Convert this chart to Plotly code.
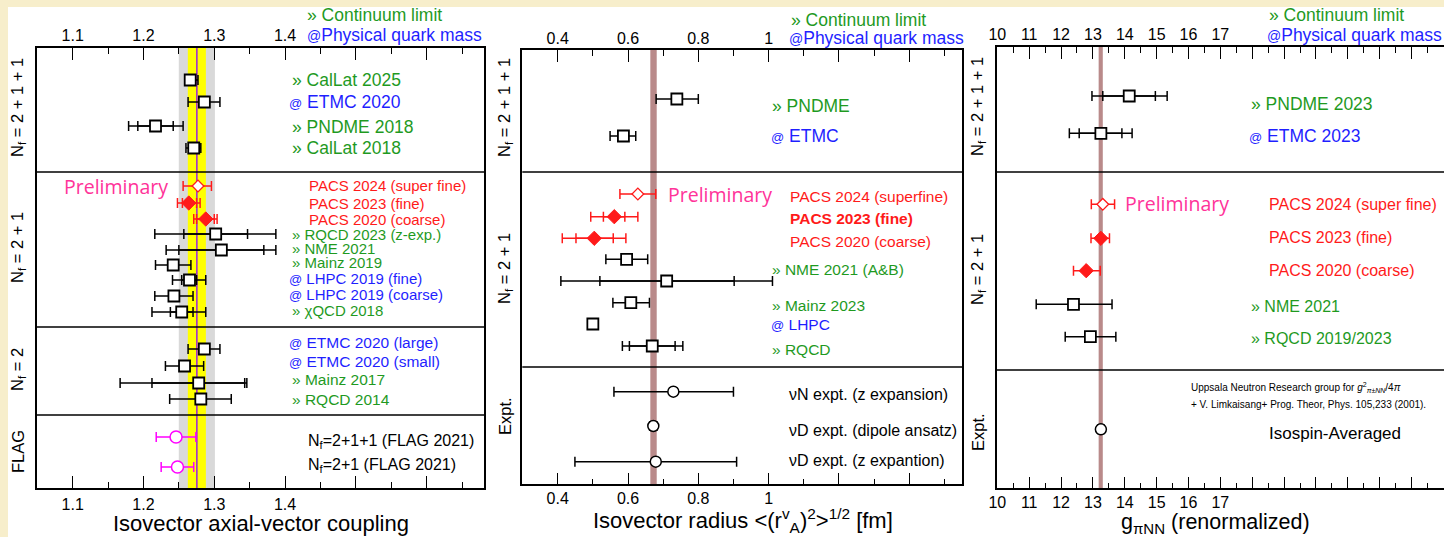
import plotly.graph_objects as go

W, H = 1444, 537

# ================= DATA =================
# Panel 1: isovector axial-vector coupling g_A
ga_names = ["CalLat 2025", "ETMC 2020", "PNDME 2018", "CalLat 2018",
            "PACS 2024 (super fine)", "PACS 2023 (fine)", "PACS 2020 (coarse)",
            "RQCD 2023 (z-exp.)", "NME 2021", "Mainz 2019", "LHPC 2019 (fine)",
            "LHPC 2019 (coarse)", "χQCD 2018",
            "ETMC 2020 (large)", "ETMC 2020 (small)", "Mainz 2017", "RQCD 2014",
            "N<sub>f</sub>=2+1+1 (FLAG 2021)", "N<sub>f</sub>=2+1 (FLAG 2021)"]
ga_tags = ["cont", "phys", "cont", "cont",
           "pacs", "pacs", "pacs", "cont", "cont", "cont", "phys", "phys", "cont",
           "phys", "phys", "cont", "cont", "plain", "plain"]
ga_marks = ["sq", "sq", "sq", "sq",
            "open_d", "fill_d", "fill_d", "sq", "sq", "sq", "sq", "sq", "sq",
            "sq", "sq", "sq", "sq", "circ_m", "circ_m"]
ga_val = [1.266, 1.286, 1.217, 1.271,
          1.277, 1.264, 1.288, 1.302, 1.310, 1.242, 1.265, 1.243, 1.254,
          1.286, 1.258, 1.278, 1.281, 1.246, 1.248]
ga_lo = [1.259, 1.263, 1.179, 1.260,
         1.256, 1.248, 1.271, 1.216, 1.232, 1.217, 1.241, 1.216, 1.212,
         1.263, 1.231, 1.167, 1.237, 1.218, 1.225]
ga_hi = [1.277, 1.308, 1.256, 1.281,
         1.296, 1.280, 1.304, 1.387, 1.387, 1.267, 1.288, 1.270, 1.288,
         1.308, 1.285, 1.346, 1.324, 1.274, 1.271]
ga_in_lo = [None, None, 1.192, None,
            None, 1.255, 1.275, 1.257, 1.250, None, 1.254, None, 1.238,
            None, None, 1.212, None, None, None]
ga_in_hi = [None, None, 1.242, None,
            None, 1.275, 1.300, 1.347, 1.370, None, 1.275, None, 1.270,
            None, None, 1.343, None, None, None]
ga_expt = 1.2754

# Panel 2: isovector axial radius
rv_names = ["PNDME", "ETMC", "PACS 2024 (superfine)", "<b>PACS 2023 (fine)</b>",
            "PACS 2020 (coarse)", "NME 2021 (A&amp;B)", "Mainz 2023", "LHPC", "RQCD",
            "νN expt. (z expansion)", "νD expt. (dipole ansatz)", "νD expt. (z expantion)"]
rv_tags = ["cont", "phys", "pacs", "pacs", "pacs", "cont", "cont", "phys", "cont",
           "plain", "plain", "plain"]
rv_marks = ["sq", "sq", "open_d", "fill_d", "fill_d", "sq", "sq", "sq", "sq", "sq",
            "circ_k", "circ_k", "circ_k"]
rv_val = [0.739, 0.587, 0.628, 0.561, 0.504, 0.596, 0.710, 0.608, 0.500, 0.669,
          0.729, 0.672, 0.679]
rv_lo = [0.680, 0.549, 0.577, 0.494, 0.413, 0.537, 0.409, 0.557, 0.487, 0.584,
         0.560, 0.662, 0.449]
rv_hi = [0.800, 0.622, 0.679, 0.628, 0.594, 0.656, 1.011, 0.661, 0.513, 0.756,
         0.900, 0.682, 0.909]
rv_in_lo = [None, None, None, 0.530, 0.452, None, 0.520, None, None, 0.604,
            None, None, None]
rv_in_hi = [None, None, None, 0.591, 0.558, None, 0.902, None, None, 0.734,
            None, None, None]
rv_band = (0.6635, 0.6817)

# Panel 3: g_piNN
gp_names = ["PNDME 2023", "ETMC 2023", "PACS 2024 (super fine)", "PACS 2023 (fine)",
            "PACS 2020 (coarse)", "NME 2021", "RQCD 2019/2023", "Isospin-Averaged"]
gp_tags = ["cont", "phys", "pacs", "pacs", "pacs", "cont", "cont", "plain"]
gp_marks = ["sq", "sq", "open_d", "fill_d", "fill_d", "sq", "sq", "circ_k"]
gp_val = [14.14, 13.25, 13.31, 13.25, 12.79, 12.39, 12.92, 13.25]
gp_lo = [12.97, 12.26, 12.95, 12.94, 12.39, 11.22, 12.13, 13.15]
gp_hi = [15.33, 14.23, 13.68, 13.52, 13.23, 13.60, 13.72, 13.35]
gp_in_lo = [13.31, 12.57, None, None, None, None, None, None]
gp_in_hi = [14.96, 13.91, None, None, None, None, None, None]
gp_band = (13.18, 13.31)

# tick labels
ga_ticklabels = ["1.1", "1.2", "1.3", "1.4"]
rv_ticklabels = ["0.4", "0.6", "0.8", "1"]
gp_ticklabels = ["10", "11", "12", "13", "14", "15", "16", "17"]

# ================= LAYOUT CONSTANTS =================
FONT = "Liberation Sans, Arial, Helvetica, sans-serif"
GREEN, BLUE, RED, PINK, MAG = "#1f9a1f", "#1f1fff", "#ff1a1a", "#ff3399", "#ff00ff"
BEIGE = "#f7eecb"

# panel frames in pixels: (left, right, top, bottom)
P1 = (37, 484, 48, 488)
P2 = (522.3, 962.3, 50, 484.3)
P3 = (996.7, 1444, 47, 488.3)

ga_rows_y = [80, 102, 126, 148, 186, 203, 219, 234, 250, 265, 280, 296, 312,
             349, 366, 383, 399, 437, 467]
ga_lab_y = [80, 102, 127, 148, 185, 203, 219, 234, 248, 262, 278, 294, 310,
            342, 361, 379, 399, 441, 465]
ga_lab_size = [17.5] * 4 + [15] * 9 + [15.5] * 4 + [16] * 2
ga_lab_x = dict(cont=291, phys=288, pacs=308, plain=307)
ga_div = [172, 327, 415]

rv_rows_y = [99, 136, 194, 216.7, 238.3, 259.3, 281, 302.7, 324, 346, 391.7, 426, 461.7]
rv_lab_y = [106, 136, 196, 218, 241, 269, 305, 324, 349, 394, 430, 460]
rv_lab_size = [17.5] * 2 + [15.5] * 7 + [16] * 3
rv_lab_x = dict(cont=771, phys=770, pacs=789, plain=788)
rv_div = [172, 367]

gp_rows_y = [96, 133.3, 204.3, 238.3, 270.7, 304.3, 336.7, 429.3]
gp_lab_y = [104, 136, 205, 238, 270, 306, 338, 433]
gp_lab_size = [17.5] * 2 + [16] * 5 + [17]
gp_lab_x = dict(cont=1250, phys=1248, pacs=1268, plain=1268)
gp_div = [172, 370]


def px(x):
    return x / W


def py(y):
    return 1 - y / H


fig = go.Figure()

MSTYLE = {
    "sq": dict(symbol="square", size=11, fill="white", line="black", lw=1.8, err="black"),
    "open_d": dict(symbol="diamond", size=9, fill="white", line=RED, lw=1.3, err=RED),
    "fill_d": dict(symbol="diamond", size=11, fill=RED, line=RED, lw=1, err=RED),
    "circ_m": dict(symbol="circle", size=12, fill="white", line=MAG, lw=1.5, err=MAG),
    "circ_k": dict(symbol="circle", size=11, fill="white", line="black", lw=1.5, err="black"),
}


def add_panel(xa, ya, vals, lo, hi, ilo, ihi, marks, rows_y):
    kinds = []
    for m in marks:
        if m not in kinds:
            kinds.append(m)
    marker_traces = []
    for k in kinds:
        st = MSTYLE[k]
        idx = [i for i, m in enumerate(marks) if m == k]
        fig.add_trace(go.Scatter(
            x=[vals[i] for i in idx], y=[rows_y[i] for i in idx], mode="markers",
            marker=dict(size=2, color="rgba(0,0,0,0)"),
            error_x=dict(type="data", symmetric=False,
                         array=[hi[i] - vals[i] for i in idx],
                         arrayminus=[vals[i] - lo[i] for i in idx],
                         color=st["err"], thickness=1.5, width=5),
            xaxis=xa, yaxis=ya, hoverinfo="skip", showlegend=False))
        idx2 = [i for i in idx if ilo[i] is not None]
        if idx2:
            fig.add_trace(go.Scatter(
                x=[vals[i] for i in idx2], y=[rows_y[i] for i in idx2], mode="markers",
                marker=dict(size=2, color="rgba(0,0,0,0)"),
                error_x=dict(type="data", symmetric=False,
                             array=[ihi[i] - vals[i] for i in idx2],
                             arrayminus=[vals[i] - ilo[i] for i in idx2],
                             color=st["err"], thickness=1.5, width=5),
                xaxis=xa, yaxis=ya, hoverinfo="skip", showlegend=False))
        marker_traces.append(go.Scatter(
            x=[vals[i] for i in idx], y=[rows_y[i] for i in idx], mode="markers",
            marker=dict(symbol=st["symbol"], size=st["size"], color=st["fill"],
                        line=dict(color=st["line"], width=st["lw"])),
            xaxis=xa, yaxis=ya, hoverinfo="skip", showlegend=False))
    for t in marker_traces:
        fig.add_trace(t)


add_panel("x", "y", ga_val, ga_lo, ga_hi, ga_in_lo, ga_in_hi, ga_marks, ga_rows_y)
add_panel("x2", "y2", rv_val, rv_lo, rv_hi, rv_in_lo, rv_in_hi, rv_marks, rv_rows_y)
add_panel("x3", "y3", gp_val, gp_lo, gp_hi, gp_in_lo, gp_in_hi, gp_marks, gp_rows_y)

# band-edge asterisks below panel 1
fig.add_trace(go.Scatter(x=[ga_expt * 0.98, ga_expt * 1.02], y=[P1[3] + 2, P1[3] + 2],
                         mode="markers", cliponaxis=False,
                         marker=dict(symbol="asterisk-open", size=7,
                                     line=dict(color="#b0b0b0", width=1)),
                         xaxis="x", yaxis="y", hoverinfo="skip", showlegend=False))

# ranges
ga_range = [1.0496, 1.681]
rv_range = [0.2993, 1.551]
gp_range = [9.98, 24.02]

# dummy traces so the label axes exist
for xa, ya, rng, pnl in [("x4", "y", ga_range, P1), ("x5", "y2", rv_range, P2),
                         ("x6", "y3", gp_range, P3), ("x7", "y", ga_range, P1),
                         ("x8", "y2", rv_range, P2), ("x9", "y3", gp_range, P3)]:
    fig.add_trace(go.Scatter(x=[sum(rng) / 2], y=[(pnl[2] + pnl[3]) / 2], mode="markers",
                             marker=dict(size=1, color="rgba(0,0,0,0)"),
                             xaxis=xa, yaxis=ya, hoverinfo="skip", showlegend=False))


def steps(a, b, d):
    out = []
    v = a
    while v <= b + 1e-9:
        out.append(round(v, 6))
        v += d
    return out


ga_major = steps(1.1, 1.6, 0.1)
ga_minor = steps(1.05, 1.65, 0.1)
rv_major = steps(0.4, 1.4, 0.2)
rv_minor = steps(0.5, 1.5, 0.2)
gp_major = steps(10, 24, 1)
gp_minor = steps(10.5, 23.5, 1)

tickfont = dict(family=FONT, size=16, color="black")


def xaxis_cfg(pnl, rng, major, minor, anchor):
    return dict(domain=[px(pnl[0]), px(pnl[1])], range=rng, anchor=anchor, automargin=False,
                tickmode="array", tickvals=major, showticklabels=False, ticks="inside",
                ticklen=12, tickwidth=1.2, tickcolor="black", mirror="ticks",
                showline=True, linecolor="black", linewidth=1.5, showgrid=False,
                zeroline=False, fixedrange=True,
                minor=dict(tickmode="array", tickvals=minor, ticks="inside", ticklen=6,
                           tickwidth=1.2, tickcolor="black", showgrid=False))


def label_axis_cfg(base, side, rng, labels, anchor, standoff):
    return dict(overlaying=base, side=side, anchor=anchor, range=rng, automargin=False,
                tickmode="array", tickvals=[float(t) for t in labels], ticktext=labels,
                ticks="", showline=False, showgrid=False, zeroline=False,
                tickfont=tickfont, fixedrange=True, ticklabelstandoff=standoff)


def yaxis_cfg(pnl, anchor, mirror=True):
    return dict(domain=[py(pnl[3]), py(pnl[2])], range=[pnl[3], pnl[2]], anchor=anchor,
                automargin=False, showticklabels=False, ticks="", showgrid=False,
                zeroline=False, showline=True, linecolor="black", linewidth=1.5,
                mirror=mirror, fixedrange=True)


shapes = []
# white sheet over the beige background
shapes.append(dict(type="rect", xref="paper", yref="paper", x0=px(8), x1=1.0, y0=0, y1=py(7),
                   fillcolor="white", line=dict(width=0), layer="below"))
# panel 1 bands
shapes.append(dict(type="rect", xref="x", yref="y domain", x0=ga_expt * 0.98, x1=ga_expt * 1.02,
                   y0=0, y1=1, fillcolor="#d9d9d9", line=dict(width=0), layer="below"))
shapes.append(dict(type="rect", xref="x", yref="y domain", x0=ga_expt * 0.99, x1=ga_expt * 1.01,
                   y0=0, y1=1, fillcolor="#ffff00", line=dict(width=0), layer="below"))
shapes.append(dict(type="line", xref="x", yref="y domain", x0=ga_expt, x1=ga_expt,
                   y0=0, y1=1, line=dict(color="#a030d0", width=1.6), layer="below"))
# panels 2, 3 bands
shapes.append(dict(type="rect", xref="x2", yref="y2 domain", x0=rv_band[0], x1=rv_band[1],
                   y0=0, y1=1, fillcolor="#b98a8a", line=dict(width=0), layer="below"))
shapes.append(dict(type="rect", xref="x3", yref="y3 domain", x0=gp_band[0], x1=gp_band[1],
                   y0=0, y1=1, fillcolor="#b98a8a", line=dict(width=0), layer="below"))
# section dividers
for xr, yr, divs in [("x domain", "y", ga_div), ("x2 domain", "y2", rv_div), ("x3 domain", "y3", gp_div)]:
    for d in divs:
        shapes.append(dict(type="line", xref=xr, yref=yr, x0=0, x1=1, y0=d, y1=d,
                           line=dict(color="black", width=1.5)))

annotations = []


def ann(x, y, text, size, color="black", xref="paper", yref="paper", xanchor="left",
        angle=0, family=FONT):
    annotations.append(dict(x=x, y=y, xref=xref, yref=yref, text=text, showarrow=False,
                            xanchor=xanchor, yanchor="middle", textangle=angle,
                            borderpad=0,
                            font=dict(family=family, size=size, color=color)))


def label_text(name, tag):
    if tag == "cont":
        return "» " + name, GREEN
    if tag == "phys":
        return '<span style="font-size:13px">@</span> ' + name, BLUE
    if tag == "pacs":
        return name, RED
    return name, "black"


for names, tags, ys, sizes, xs, yref in [
        (ga_names, ga_tags, ga_lab_y, ga_lab_size, ga_lab_x, "y"),
        (rv_names, rv_tags, rv_lab_y, rv_lab_size, rv_lab_x, "y2"),
        (gp_names, gp_tags, gp_lab_y, gp_lab_size, gp_lab_x, "y3")]:
    for n, t, yy, s in zip(names, tags, ys, sizes):
        txt, col = label_text(n, t)
        ann(px(xs[t]), yy, txt, s, col, yref=yref)

# legend-like header texts
for xc, yc, xp, yp in [(306, 15, 306, 35), (790, 20, 788, 38), (1268, 15, 1266, 35)]:
    ann(px(xc), py(yc), "» Continuum limit", 17.5, GREEN)
    ann(px(xp), py(yp), '<span style="font-size:14px">@</span>Physical quark mass', 17.5, BLUE)

# Preliminary
PREL_FONT = "Open Sans, Noto Sans, sans-serif"
ann(px(63), 186, "Preliminary", 19.5, PINK, yref="y", family=PREL_FONT)
ann(px(667), 194, "Preliminary", 19.5, PINK, yref="y2", family=PREL_FONT)
ann(px(1124), 204, "Preliminary", 19.5, PINK, yref="y3", family=PREL_FONT)

# section labels (vertical)
for x, y, t in [(18, 108, "N<sub>f</sub> = 2 + 1 + 1"), (18, 248, "N<sub>f</sub> = 2 + 1"),
                (18, 370, "N<sub>f</sub> = 2"), (18, 452, "FLAG"),
                (505, 108, "N<sub>f</sub> = 2 + 1 + 1"), (505, 269, "N<sub>f</sub> = 2 + 1"),
                (505, 416, "Expt."),
                (978, 107, "N<sub>f</sub> = 2 + 1 + 1"), (978, 270, "N<sub>f</sub> = 2 + 1"),
                (978, 432, "Expt.")]:
    ann(px(x), py(y), t, 16.5, "black", xanchor="center", angle=-90)

# source note in panel 3
ann(px(1190), 387, "Uppsala Neutron Research group for <i>g</i><sup>2</sup><sub><i>π</i>±<i>NN</i></sub>/4<i>π</i>",
    10, "black", yref="y3")
ann(px(1190), 404, "+ V. Limkaisang+ Prog. Theor, Phys. 105,233 (2001).",
    10, "black", yref="y3")

# axis titles
ann(px(261), py(523), "Isovector axial-vector coupling", 22, xanchor="center")
ann(px(743), py(520), "Isovector radius &lt;(r<sup>v</sup><sub>A</sub>)<sup>2</sup>&gt;<sup>1/2</sup> [fm]",
    22, xanchor="center")
ann(px(1215), py(523), "g<sub>πNN</sub> (renormalized)", 21.5, xanchor="center")

fig.update_layout(
    width=W, height=H, autosize=False,
    margin=dict(l=0, r=0, t=0, b=0, pad=0, autoexpand=False),
    paper_bgcolor=BEIGE, plot_bgcolor="white",
    showlegend=False,
    xaxis=xaxis_cfg(P1, ga_range, ga_major, ga_minor, "y"),
    xaxis2=xaxis_cfg(P2, rv_range, rv_major, rv_minor, "y2"),
    xaxis3=xaxis_cfg(P3, gp_range, gp_major, gp_minor, "y3"),
    xaxis4=label_axis_cfg("x", "top", ga_range, ga_ticklabels, "y", 3),
    xaxis5=label_axis_cfg("x2", "top", rv_range, rv_ticklabels, "y2", 2),
    xaxis6=label_axis_cfg("x3", "top", gp_range, gp_ticklabels, "y3", 3),
    xaxis7=label_axis_cfg("x", "bottom", ga_range, ga_ticklabels, "y", 5),
    xaxis8=label_axis_cfg("x2", "bottom", rv_range, rv_ticklabels, "y2", 3),
    xaxis9=label_axis_cfg("x3", "bottom", gp_range, gp_ticklabels, "y3", 3),
    yaxis=yaxis_cfg(P1, "x"),
    yaxis2=yaxis_cfg(P2, "x2"),
    yaxis3=yaxis_cfg(P3, "x3", mirror=False),
    shapes=shapes,
    annotations=annotations,
)

fig.write_html("out.html")
